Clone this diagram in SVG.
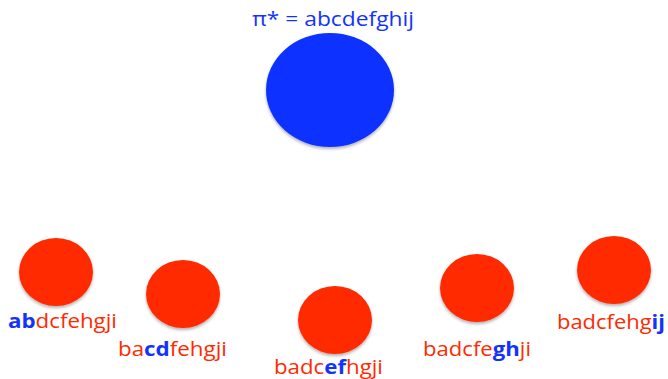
<svg xmlns="http://www.w3.org/2000/svg" width="668" height="379" viewBox="0 0 668 379">
<style>
.lbl{font-family:"Open Sans","Liberation Sans",sans-serif;font-size:20px;fill:#FF2A00}
.hl{fill:#1233FF;font-weight:bold}
.title{font-family:"Open Sans","Liberation Sans",sans-serif;font-size:20px;fill:#1233FF}
.red{fill:#FF2A00;filter:url(#sh)}
.blue{fill:#0F33FF;filter:url(#sh)}
</style>
<defs>
<filter id="sh" x="-20%" y="-20%" width="140%" height="150%">
<feDropShadow dx="0" dy="2" stdDeviation="1.5" flood-color="#000" flood-opacity="0.3"/>
</filter>
</defs>
<rect width="668" height="379" fill="#fff"/>
<g id="connectors"></g>
<g id="root">
<ellipse class="blue" cx="330" cy="90" rx="64" ry="57"/>
<text class="title" x="252" y="26" textLength="162" lengthAdjust="spacingAndGlyphs">π* = abcdefghij</text>
</g>
<g id="n1">
<ellipse class="red" cx="56" cy="272" rx="37" ry="34"/>
<text class="lbl" x="8" y="328" textLength="109" lengthAdjust="spacingAndGlyphs"><tspan class="hl">ab</tspan>dcfehgji</text>
</g>
<g id="n2">
<ellipse class="red" cx="183" cy="294" rx="37" ry="34"/>
<text class="lbl" x="118" y="356" textLength="109" lengthAdjust="spacingAndGlyphs">ba<tspan class="hl">cd</tspan>fehgji</text>
</g>
<g id="n3">
<ellipse class="red" cx="335" cy="320" rx="37" ry="34"/>
<text class="lbl" x="274" y="374" textLength="109" lengthAdjust="spacingAndGlyphs">badc<tspan class="hl">ef</tspan>hgji</text>
</g>
<g id="n4">
<ellipse class="red" cx="477" cy="288" rx="37" ry="34"/>
<text class="lbl" x="423" y="356" textLength="108" lengthAdjust="spacingAndGlyphs">badcfe<tspan class="hl">gh</tspan>ji</text>
</g>
<g id="n5">
<ellipse class="red" cx="614" cy="270" rx="37" ry="34"/>
<text class="lbl" x="557" y="329" textLength="108" lengthAdjust="spacingAndGlyphs">badcfehg<tspan class="hl">ij</tspan></text>
</g>
</svg>
